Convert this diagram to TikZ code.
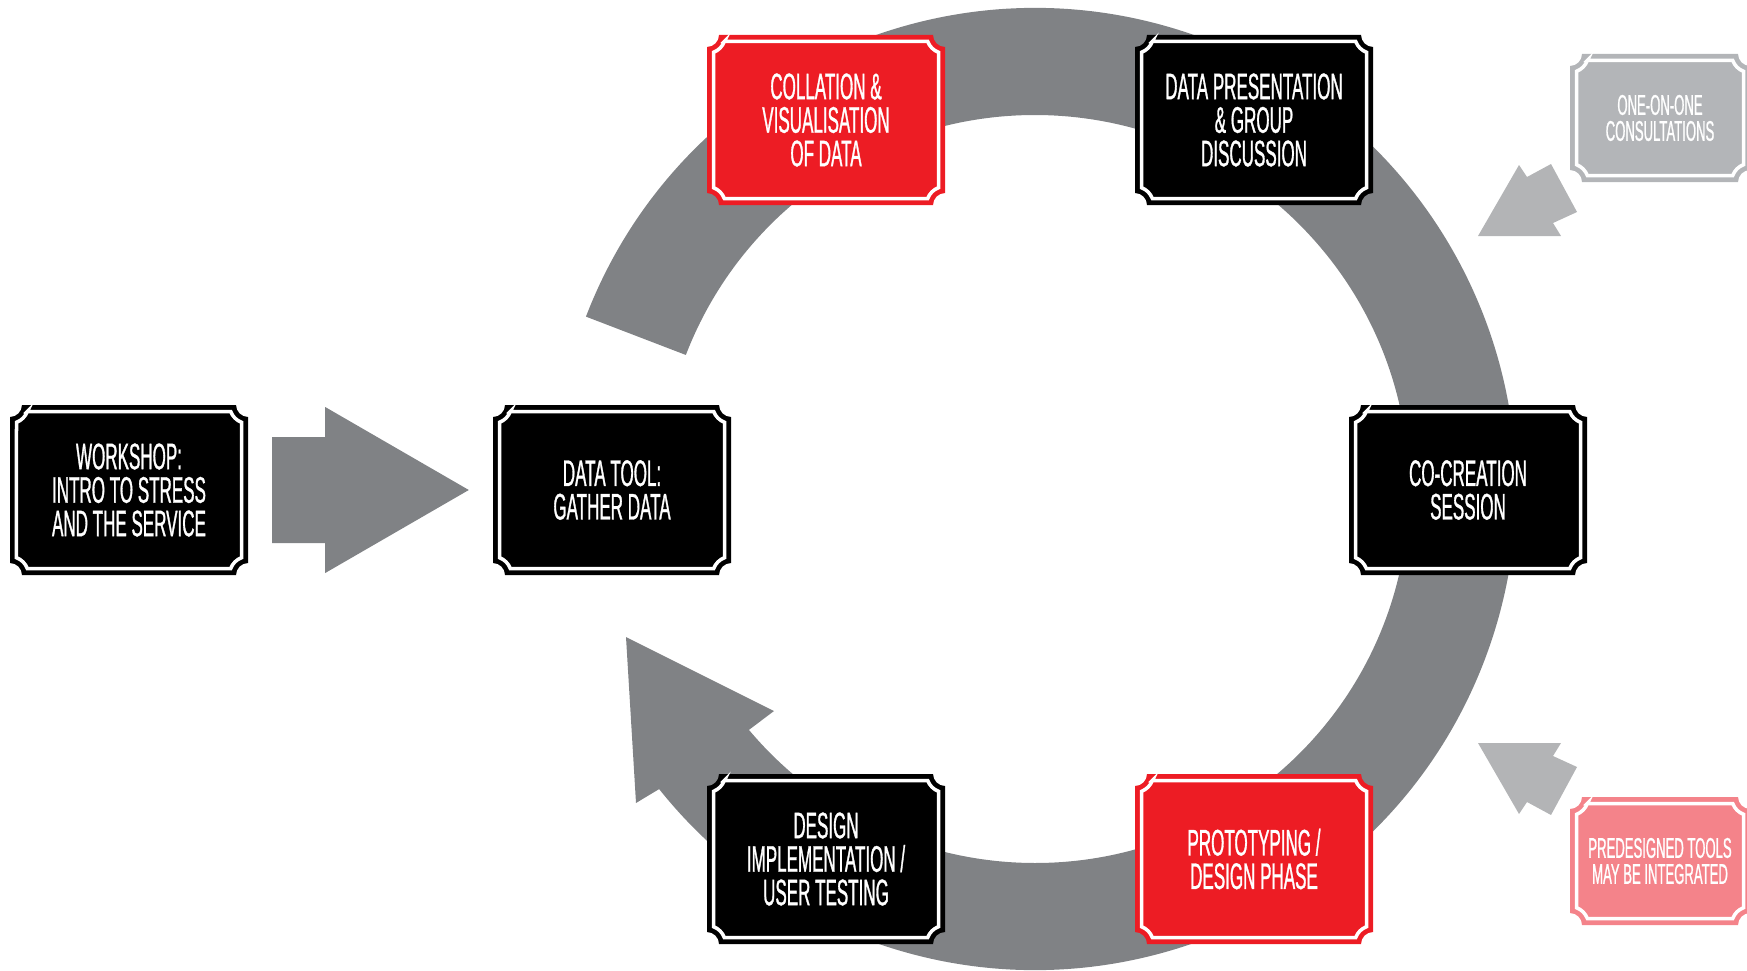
\documentclass[tikz,border=0pt]{standalone}
\usepackage{fontspec}
\newfontfamily\cardfont{Liberation Sans}[FakeStretch=0.46,FakeBold=0.8]
\usetikzlibrary{calc}

\definecolor{ringgray}{HTML}{808285}
\definecolor{softgray}{HTML}{B3B4B6}
\definecolor{cardred}{HTML}{ED1C24}
\definecolor{cardpink}{HTML}{F4838A}
\definecolor{cardgray}{HTML}{B3B5B8}

\tikzset{
  cardlabel/.style={text=white, align=center, inner sep=0pt,
    font=\cardfont\fontsize{37}{33.5}\selectfont},
  smalllabel/.style={font=\cardfont\fontsize{28.5}{26}\selectfont},
  cardrule/.style={draw=white, line width=3.5pt},
  flow/.style={fill=ringgray},
  sideflow/.style={fill=softgray},
}

% A label card: filled panel with notched corners, a white inner rule
% and the named text node on top.
% #1 node options, #2 name, #3 cx, #4 cy, #5 width, #6 height, #7 colour, #8 text
\newcommand\card[8][]{%
  \pgfmathsetmacro\cardxa{#3-#5/2}\pgfmathsetmacro\cardxb{#3+#5/2}%
  \pgfmathsetmacro\cardya{#4-#6/2}\pgfmathsetmacro\cardyb{#4+#6/2}%
  \fill[#7] (\cardxa+12,\cardya) -- (\cardxb-12,\cardya)
      arc[start angle=180,end angle=90,radius=12]
    -- (\cardxb,\cardyb-12) arc[start angle=270,end angle=180,radius=12]
    -- (\cardxa+12,\cardyb) arc[start angle=0,end angle=-90,radius=12]
    -- (\cardxa,\cardya+12) arc[start angle=90,end angle=0,radius=12] -- cycle;
  \draw[cardrule] (\cardxa+17.32,\cardya+6.5) -- (\cardxb-17.32,\cardya+6.5)
      arc[start angle=159.44,end angle=110.56,radius=18.5]
    -- (\cardxb-6.5,\cardyb-17.32) arc[start angle=249.44,end angle=200.56,radius=18.5]
    -- (\cardxa+17.32,\cardyb-6.5) arc[start angle=-20.56,end angle=-69.44,radius=18.5]
    -- (\cardxa+6.5,\cardya+17.32) arc[start angle=69.44,end angle=20.56,radius=18.5]
    -- cycle;
  \node[cardlabel,minimum width=#5,minimum height=#6,#1] (#2) at (#3,#4) {#8};
}

\begin{document}
\begin{tikzpicture}[x=1pt,y=-1pt]
\useasboundingbox (0,0) rectangle (1747,971);

% the cycle: a thick ring running clockwise, ending in an arrow head
\coordinate (ringc) at (1035,489);
\fill[flow] ($(ringc)+(-159:481)$) arc[start angle=-159,end angle=141.4,radius=481]
  -- (636,803) -- (626,637) -- (774,711)
  -- ($(ringc)+(139.9:374)$) arc[start angle=139.9,end angle=-159,radius=374]
  -- cycle;

% side inputs
\fill[sideflow] (1478,236) -- (1519,165) -- (1527,177) -- (1551,164)
  -- (1577,212) -- (1553,223) -- (1561,236) -- cycle;
\fill[sideflow] (1478,743) -- (1519,814) -- (1527,802) -- (1551,815)
  -- (1577,767) -- (1553,756) -- (1561,743) -- cycle;

% cards
\card{workshop}{129}{490}{238}{170}{black}{WORKSHOP:\\INTRO TO STRESS\\AND THE SERVICE}
\card{datatool}{612}{490}{238}{170}{black}{DATA TOOL:\\GATHER DATA}
\card{collation}{826}{120}{238}{170}{cardred}{COLLATION \&\\VISUALISATION\\OF DATA}
\card{presentation}{1254}{120}{238}{170}{black}{DATA PRESENTATION\\\& GROUP\\DISCUSSION}
\card{cocreation}{1468}{490}{238}{170}{black}{CO-CREATION\\SESSION}
\card{prototyping}{1254}{859}{238}{170}{cardred}{PROTOTYPING /\\DESIGN PHASE}
\card{implementation}{826}{859}{238}{170}{black}{DESIGN\\IMPLEMENTATION /\\USER TESTING}
\card[smalllabel]{consult}{1660}{118}{180}{128}{cardgray}{ONE-ON-ONE\\CONSULTATIONS}
\card[smalllabel]{tools}{1660}{861}{180}{128}{cardpink}{PREDESIGNED TOOLS\\MAY BE INTEGRATED}

% block arrow from the workshop to the data tool
\coordinate (ws) at ($(workshop.east)+(24,0)$);
\coordinate (wt) at ($(datatool.west)+(-24,0)$);
\fill[flow] ($(ws)+(0,-53)$) -- ($(ws)+(53,-53)$) -- ($(ws)+(53,-83)$) -- (wt)
  -- ($(ws)+(53,83)$) -- ($(ws)+(53,53)$) -- ($(ws)+(0,53)$) -- cycle;
\end{tikzpicture}
\end{document}
